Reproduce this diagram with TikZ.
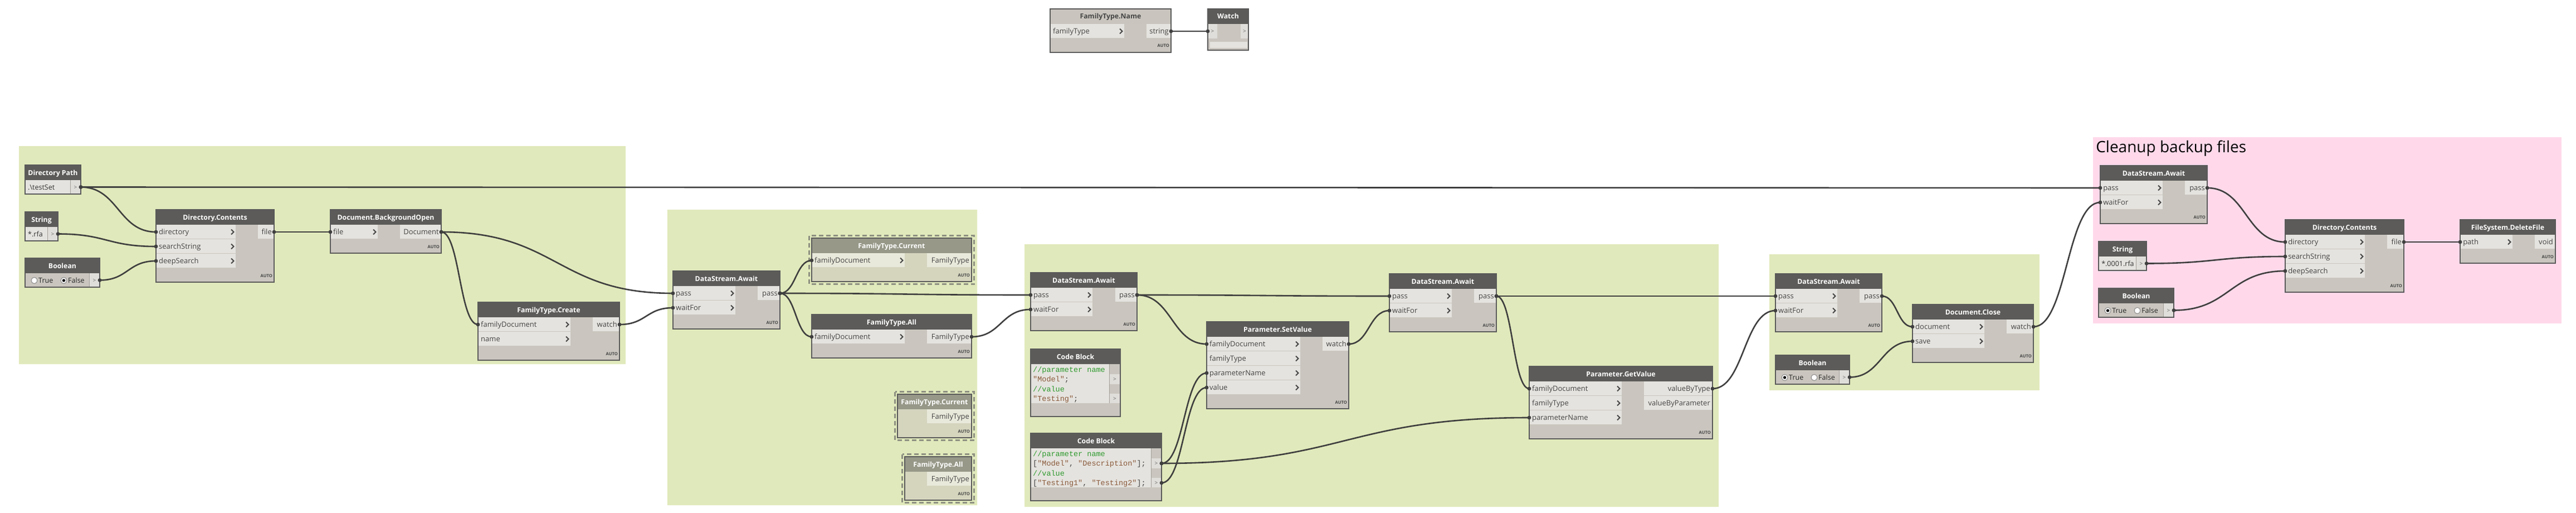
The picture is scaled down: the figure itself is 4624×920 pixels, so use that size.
\documentclass[tikz,border=0pt]{standalone}
\usepackage{fontspec}
\setmainfont{Open Sans}
\newfontfamily\codefont{Liberation Mono}
\usetikzlibrary{calc}
\definecolor{grpg}{HTML}{E0E9BB}
\definecolor{grpp}{HTML}{FFD9EA}
\definecolor{hdr}{HTML}{5C5B59}
\definecolor{nbody}{HTML}{CAC6BF}
\definecolor{nrow}{HTML}{E5E3DF}
\definecolor{portcell}{HTML}{E0DEDA}
\definecolor{bord}{HTML}{5A5A5A}
\definecolor{ptxt}{HTML}{454545}
\definecolor{wirec}{HTML}{3F3F3F}
\definecolor{fzhdr}{HTML}{979888}
\definecolor{fzbody}{HTML}{D5D5BE}
\definecolor{fzrow}{HTML}{E9E9DB}
\definecolor{fzdash}{HTML}{8E9181}
\definecolor{palehdr}{HTML}{C9C5BE}
\definecolor{cmt}{HTML}{2E9A2E}
\definecolor{strc}{HTML}{8A5A3A}
\definecolor{radiob}{HTML}{7A7A7A}
\definecolor{gtc}{HTML}{6A6A6A}
\tikzset{
  nbox/.style={inner sep=0pt, outer sep=0pt, anchor=north west, draw=none},
  grpbox/.style={inner sep=0pt, outer sep=0pt, anchor=north west, draw=none},
  htitle/.style={font=\fontsize{12.3}{14}\selectfont\bfseries, inner sep=0pt, anchor=base},
  plab/.style={font=\fontsize{13}{15}\selectfont, text=ptxt, inner xsep=5pt, inner ysep=0pt},
  vlab/.style={font=\fontsize{12.5}{15}\selectfont, text=black!80, inner xsep=5pt, inner ysep=0pt, anchor=base west},
  rlab/.style={font=\fontsize{12.5}{15}\selectfont, text=black!85, inner sep=0pt, anchor=base west},
  autol/.style={font=\fontsize{7.6}{8}\selectfont\bfseries, text=ptxt, inner sep=0pt, anchor=base east},
  gt/.style={font=\fontsize{10}{12}\selectfont, text=gtc, inner sep=0pt, anchor=base},
  chev/.style={draw=ptxt, line width=2pt},
  sepl/.style={draw=nbody!80!black, line width=0.8pt},
  radio/.style={circle, draw=radiob, fill=white, line width=0.8pt, minimum size=11pt, inner sep=0pt},
  wire/.style={draw=wirec, line width=2.6pt},
  fzd/.style={draw=fzdash, line width=2.6pt, dash pattern=on 8pt off 5pt},
  cline/.style={font=\codefont\fontsize{13.5}{15}\selectfont, inner sep=0pt, anchor=base west},
  gtitle/.style={font=\fontsize{28}{32}\selectfont, text=black, inner sep=0pt, anchor=base west},
  nborder/.style={draw=bord, line width=1.2pt},
}
\newcommand\setnormal{\def\dnHC{hdr}\def\dnBC{nbody}\def\dnRC{nrow}\def\dnHT{white}}
\newcommand\setfrozen{\def\dnHC{fzhdr}\def\dnBC{fzbody}\def\dnRC{fzrow}\def\dnHT{white}}
\newcommand\setpale{\def\dnHC{palehdr}\def\dnBC{nbody}\def\dnRC{nrow}\def\dnHT{ptxt}}
% function node: name x0 y0 x1 nrows title
\newcommand\fnode[6]{%
  \pgfmathsetmacro\dnB{#3+27+26*#5+25}%
  \xdef\dnN{#1}\xdef\dnX{#2}\xdef\dnT{#3}\xdef\dnR{#4}%
  \node[nbox, fill=\dnBC, minimum width={(#4)-(#2)}, minimum height={\dnB-(#3)}] (#1) at (#2,#3) {};
  \path[fill=\dnHC] (#2,#3) rectangle (#4,#3+27);
  \node[htitle, text=\dnHT] (#1-t) at ({(#2+#4)/2},#3+18) {#6};
  \node[autol] (#1-a) at (#4-3,\dnB-9) {AUTO};
}
\newcommand\fins[2]{%
  \foreach \lab [count=\i] in {#2} {
    \pgfmathsetmacro\yt{\dnT+27+26*(\i-1)}
    \path[fill=\dnRC] (\dnX+0.6,\yt) rectangle (#1,\yt+25);
    \coordinate (\dnN-i\i) at (\dnX,\yt+13);
    \node[plab, anchor=base west] (\dnN-il\i) at (\dnX,\yt+17.5) {\lab};
    \draw[chev] (#1-8,\yt+8.5) -- (#1-3.5,\yt+13) -- (#1-8,\yt+17.5);
  }%
}
\newcommand\fouts[2]{%
  \foreach \lab [count=\i] in {#2} {
    \pgfmathsetmacro\yt{\dnT+27+26*(\i-1)}
    \path[fill=\dnRC] (#1,\yt) rectangle (\dnR-0.6,\yt+25);
    \coordinate (\dnN-o\i) at (\dnR,\yt+13);
    \node[plab, anchor=base east, inner xsep=4pt] (\dnN-ol\i) at (\dnR,\yt+17.5) {\lab};
  }%
  \draw[nborder] (\dnN.north west) rectangle (\dnN.south east);
}
% value node: name x0 y0 x1 title
\newcommand\vnode[5]{%
  \node[nbox, fill=nbody, minimum width={(#4)-(#2)}, minimum height=52] (#1) at (#2,#3) {};
  \path[fill=hdr] (#2,#3) rectangle (#4,#3+27);
  \node[htitle, text=white] (#1-t) at ({(#2+#4)/2},#3+18) {#5};
  \coordinate (#1-o1) at (#4,#3+39.5);
  \path[fill=portcell] (#4-19,#3+27) rectangle (#4-0.6,#3+51.4);
  \draw[sepl] (#4-19,#3+27) -- (#4-19,#3+52);
  \node[gt] (#1-g) at (#4-9.5,#3+43) {>};
}
\newcommand\strnode[6]{%
  \vnode{#1}{#2}{#3}{#4}{#5}%
  \path[fill=nrow] (#2+0.6,#3+27) rectangle (#4-19,#3+51.4);
  \node[vlab] (#1-v) at (#2,#3+44) {#6};
  \draw[nborder] (#1.north west) rectangle (#1.south east);
}
\newcommand\boolnode[5]{%
  \vnode{#1}{#2}{#3}{#4}{Boolean}%
  \node[radio] (#1-r1) at (#2+16.5,#3+40) {};
  \node[rlab] (#1-l1) at (#2+24,#3+44.5) {True};
  \node[radio] (#1-r2) at (#2+69.5,#3+40) {};
  \node[rlab] (#1-l2) at (#2+77,#3+44.5) {False};
  \fill[black] (#1-r#5) circle (2.7pt);
  \draw[nborder] (#1.north west) rectangle (#1.south east);
}
% code block: name x0 y0 x1 portcolumn l1 l2 l3 l4
\newcommand\cbnode[9]{%
  \node[nbox, fill=nbody, minimum width={(#4)-(#2)}, minimum height=121] (#1) at (#2,#3) {};
  \path[fill=hdr] (#2,#3) rectangle (#4,#3+27);
  \node[htitle, text=white] (#1-t) at ({(#2+#4)/2},#3+18) {Code Block};
  \path[fill=nrow] (#2+0.6,#3+27) rectangle (#5,#3+97);
  \path[fill=portcell] (#5,#3+45.25) rectangle (#4-0.6,#3+62.75);
  \path[fill=portcell] (#5,#3+80.25) rectangle (#4-0.6,#3+97);
  \draw[sepl] (#5,#3+27) -- (#5,#3+97);
  \node[gt] (#1-g1) at ({(#5+#4)/2},#3+57.5) {>};
  \node[gt] (#1-g2) at ({(#5+#4)/2},#3+92.5) {>};
  \coordinate (#1-o1) at (#4,#3+54);
  \coordinate (#1-o2) at (#4,#3+89);
  \node[cline] (#1-l1) at (#2+4,#3+41) {#6};
  \node[cline] (#1-l2) at (#2+4,#3+58.5) {#7};
  \node[cline] (#1-l3) at (#2+4,#3+76) {#8};
  \node[cline] (#1-l4) at (#2+4,#3+93.5) {#9};
  \draw[nborder] (#1.north west) rectangle (#1.south east);
}
\newcommand\frz[1]{\draw[fzd] ([shift={(-4.5,-4.5)}]#1.north west) rectangle ([shift={(4.5,4.5)}]#1.south east);}
\newdimen\wirXa \newdimen\wirXb
\newcommand\wire[2]{%
  \pgfextractx{\wirXa}{\pgfpointanchor{#1}{center}}%
  \pgfextractx{\wirXb}{\pgfpointanchor{#2}{center}}%
  \pgfmathsetmacro\wirD{max(0.5*abs(\wirXb-\wirXa),12)}%
  \draw[wire] (#1) .. controls ($(#1)+(\wirD pt,0pt)$) and ($(#2)+(-\wirD pt,0pt)$) .. (#2);
  \fill[wirec] (#1) circle (3.4pt);
  \fill[wirec] (#2) circle (3.4pt);
}
\begin{document}
\begin{tikzpicture}[x=1pt,y=-1pt]
\useasboundingbox (0,0) rectangle (4624,920);
\fill[white] (0,0) rectangle (4624,920);
% groups
\node[grpbox, fill=grpg, minimum width=1089, minimum height=391] (g1) at (34,262) {};
\node[grpbox, fill=grpg, minimum width=556, minimum height=530] (g2) at (1198,376) {};
\node[grpbox, fill=grpg, minimum width=1246, minimum height=471] (g3) at (1839,438) {};
\node[grpbox, fill=grpg, minimum width=485, minimum height=244] (g4) at (3176,456) {};
\node[grpbox, fill=grpp, minimum width=841, minimum height=334] (g5) at (3757,246) {};
\node[gtitle] (g5-t) at (3762,273) {Cleanup backup files};
% top nodes
\setpale
\fnode{ftn}{1885}{16}{2102}{1}{FamilyType.Name}
\fins{2018}{familyType}
\fouts{2058}{string}
\node[nbox, fill=nbody, minimum width=73, minimum height=74] (watch) at (2168,16) {};
\path[fill=hdr] (2168,16) rectangle (2241,43);
\node[htitle, text=white] (watch-t) at (2204.5,34) {Watch};
\path[fill=portcell] (2168.6,43) rectangle (2185,69);
\path[fill=portcell] (2227,43) rectangle (2240.4,69);
\node[gt] (watch-g1) at (2176.5,59.5) {>};
\node[gt] (watch-g2) at (2234,59.5) {>};
\path[fill=nrow] (2172,75) rectangle (2239,86);
\coordinate (watch-i1) at (2168,56);
\draw[nborder] (watch.north west) rectangle (watch.south east);
% group 1
\strnode{dp}{45}{296}{145}{Directory Path}{.\textbackslash testSet}
\strnode{str1}{45}{380}{104}{String}{*.rfa}
\boolnode{bool1}{45}{463}{179}{2}
\setnormal
\fnode{dc1}{280}{376}{492}{3}{Directory.Contents}
\fins{423}{directory,searchString,deepSearch}
\fouts{463}{file}
\fnode{dbo}{593}{376}{792}{1}{Document.BackgroundOpen}
\fins{678}{file}
\fouts{718}{Document}
\fnode{ftc}{858}{542}{1112}{2}{FamilyType.Create}
\fins{1024}{familyDocument,name}
\fouts{1064}{watch}
% group 2
\fnode{aw1}{1208}{486}{1400}{2}{DataStream.Await}
\fins{1320}{pass,waitFor}
\fouts{1360}{pass}
\setfrozen
\fnode{ftcur1}{1457}{427}{1744}{1}{FamilyType.Current}
\fins{1624}{familyDocument}
\fouts{1664}{FamilyType}
\frz{ftcur1}
\setnormal
\fnode{ftall1}{1457}{564}{1744}{1}{FamilyType.All}
\fins{1624}{familyDocument}
\fouts{1664}{FamilyType}
\setfrozen
\fnode{ftcur2}{1611}{707}{1744}{1}{FamilyType.Current}
\fouts{1664}{FamilyType}
\frz{ftcur2}
\fnode{ftall2}{1624}{819}{1744}{1}{FamilyType.All}
\fouts{1664}{FamilyType}
\frz{ftall2}
\setnormal
% group 3
\fnode{aw2}{1850}{489}{2041}{2}{DataStream.Await}
\fins{1961}{pass,waitFor}
\fouts{2002}{pass}
\cbnode{cb1}{1850}{626}{2011}{1991}{\textcolor{cmt}{//parameter name}}{\textcolor{strc}{"Model"}\textcolor{ptxt}{;}}{\textcolor{cmt}{//value}}{\textcolor{strc}{"Testing"}\textcolor{ptxt}{;}}
\cbnode{cb2}{1850}{777}{2085}{2066}{\textcolor{cmt}{//parameter name}}{\textcolor{ptxt}{[}\textcolor{strc}{"Model"}\textcolor{ptxt}{, }\textcolor{strc}{"Description"}\textcolor{ptxt}{];}}{\textcolor{cmt}{//value}}{\textcolor{ptxt}{[}\textcolor{strc}{"Testing1"}\textcolor{ptxt}{, }\textcolor{strc}{"Testing2"}\textcolor{ptxt}{];}}
\fnode{sv}{2166}{577}{2421}{4}{Parameter.SetValue}
\fins{2334}{familyDocument,familyType,parameterName,value}
\fouts{2374}{watch}
\fnode{aw3}{2494}{491}{2686}{2}{DataStream.Await}
\fins{2606}{pass,waitFor}
\fouts{2646}{pass}
\fnode{gv}{2745}{657}{3074}{3}{Parameter.GetValue}
\fins{2911}{familyDocument,familyType,parameterName}
\fouts{2951}{valueByType,valueByParameter}
% group 4
\fnode{aw4}{3187}{491}{3378}{2}{DataStream.Await}
\fins{3298}{pass,waitFor}
\fouts{3338}{pass}
\boolnode{bool3}{3187}{637}{3320}{1}
\fnode{dcl}{3433}{546}{3650}{2}{Document.Close}
\fins{3562}{document,save}
\fouts{3602}{watch}
% cleanup group
\fnode{aw5}{3770}{297}{3962}{2}{DataStream.Await}
\fins{3882}{pass,waitFor}
\fouts{3922}{pass}
\strnode{str2}{3767}{433}{3853}{String}{*.0001.rfa}
\boolnode{bool2}{3767}{517}{3902}{1}
\fnode{dc2}{4102}{394}{4315}{3}{Directory.Contents}
\fins{4245}{directory,searchString,deepSearch}
\fouts{4285}{file}
\fnode{del}{4416}{394}{4587}{1}{FileSystem.DeleteFile}
\fins{4510}{path}
\fouts{4550}{void}
% wires
\wire{ftn-o1}{watch-i1}
\wire{dp-o1}{dc1-i1}
\wire{dp-o1}{aw5-i1}
\wire{str1-o1}{dc1-i2}
\wire{bool1-o1}{dc1-i3}
\wire{dc1-o1}{dbo-i1}
\wire{dbo-o1}{ftc-i1}
\wire{dbo-o1}{aw1-i1}
\wire{ftc-o1}{aw1-i2}
\wire{aw1-o1}{ftcur1-i1}
\wire{aw1-o1}{ftall1-i1}
\wire{aw1-o1}{aw2-i1}
\wire{ftall1-o1}{aw2-i2}
\wire{aw2-o1}{sv-i1}
\wire{aw2-o1}{aw3-i1}
\wire{cb2-o1}{sv-i3}
\wire{cb2-o2}{sv-i4}
\wire{cb2-o1}{gv-i3}
\wire{sv-o1}{aw3-i2}
\wire{aw3-o1}{gv-i1}
\wire{aw3-o1}{aw4-i1}
\wire{gv-o1}{aw4-i2}
\wire{aw4-o1}{dcl-i1}
\wire{bool3-o1}{dcl-i2}
\wire{dcl-o1}{aw5-i2}
\wire{aw5-o1}{dc2-i1}
\wire{str2-o1}{dc2-i2}
\wire{bool2-o1}{dc2-i3}
\wire{dc2-o1}{del-i1}
\end{tikzpicture}
\end{document}
